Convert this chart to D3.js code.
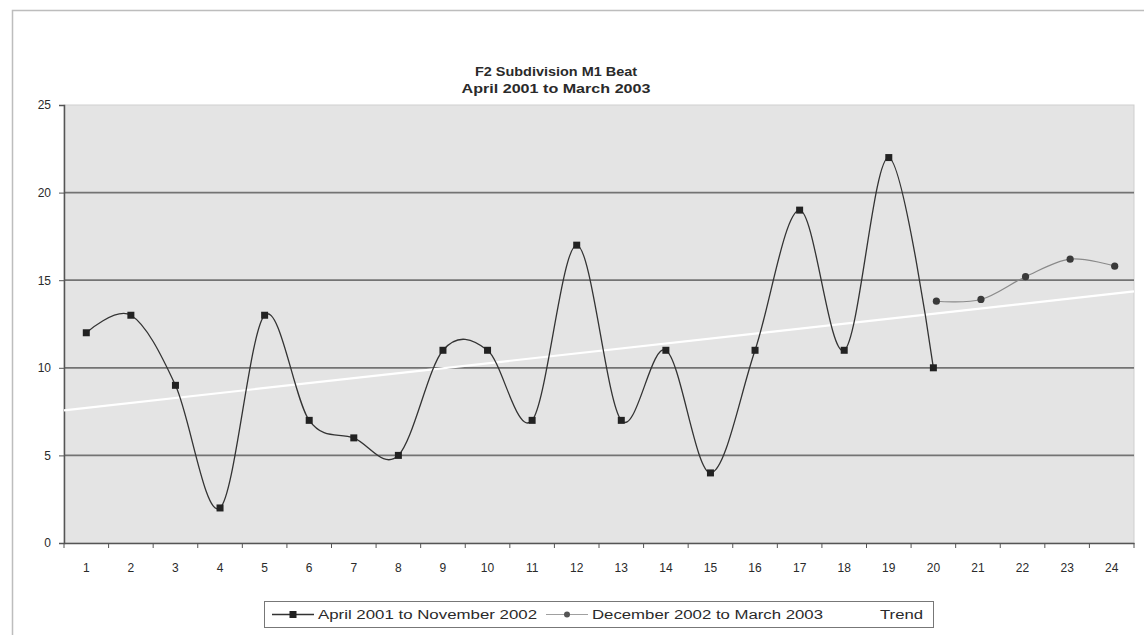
<!DOCTYPE html>
<html>
<head>
<meta charset="utf-8">
<script src="https://cdn.jsdelivr.net/npm/d3@7"></script>
<style>
  html, body { margin: 0; padding: 0; background: #fff; }
  svg { display: block; }
  text { font-family: "Liberation Sans", Arial, sans-serif; fill: #2a2a2a; }
</style>
</head>
<body>
<svg id="chart" width="1144" height="635"></svg>
<script>
// Monthly counts, F2 Subdivision M1 Beat
const months = d3.range(1, 25).map(String);
const firstPeriod = [12, 13, 9, 2, 13, 7, 6, 5, 11, 11, 7, 17, 7, 11, 4, 11, 19, 11, 22, 10]; // months 1-20
const secondPeriod = [13.8, 13.9, 15.2, 16.2, 15.8];                                          // months 20-24
const secondStart = 20;
const yTicks = [0, 5, 10, 15, 20, 25];
const titleLines = ["F2 Subdivision M1 Beat", "April 2001 to March 2003"];
const legendLabels = ["April 2001 to November 2002", "December 2002 to March 2003", "Trend"];

const svg = d3.select("#chart");
const plot = { left: 64, right: 1134, top: 105, bottom: 543 };

// chart frame
svg.append("rect").attr("x", 12.5).attr("y", 10.5).attr("width", 1140).attr("height", 640)
  .attr("fill", "#fff").attr("stroke", "#bdbdbd").attr("stroke-width", 1.5);

const x = d3.scaleBand().domain(months).range([plot.left, plot.right]);
const xc = d => x(String(d)) + x.bandwidth() / 2;
const xLin = d3.scaleLinear().domain([0.5, 24.5]).range([plot.left, plot.right]);
const y = d3.scaleLinear().domain([0, 25]).range([plot.bottom, plot.top]);

// plot area
svg.append("rect").attr("x", plot.left).attr("y", plot.top)
  .attr("width", plot.right - plot.left).attr("height", plot.bottom - plot.top)
  .attr("fill", "#e4e4e4").attr("stroke", "#cfcfcf").attr("stroke-width", 1);

// horizontal gridlines
svg.append("g").selectAll("line").data(yTicks.filter(v => v > 0 && v < 25)).join("line")
  .attr("x1", plot.left).attr("x2", plot.right)
  .attr("y1", d => y(d)).attr("y2", d => y(d))
  .attr("stroke", "#737373").attr("stroke-width", 1.7);

// y axis
const yAxis = svg.append("g").attr("transform", `translate(${plot.left},0)`)
  .call(d3.axisLeft(y).tickValues(yTicks).tickSize(5).tickPadding(8));
yAxis.select(".domain").attr("stroke", "#555").attr("stroke-width", 1.5);
yAxis.selectAll(".tick line").attr("stroke", "#555");
yAxis.selectAll("text").attr("font-size", 12).attr("fill", "#333");

// x axis: ticks fall between categories
const xAxis = svg.append("g").attr("transform", `translate(0,${plot.bottom})`)
  .call(d3.axisBottom(x).tickSize(0).tickPadding(20));
xAxis.select(".domain").attr("stroke", "#555").attr("stroke-width", 1.5);
xAxis.selectAll("text").attr("font-size", 12).attr("fill", "#333");
xAxis.append("g").selectAll("line").data(d3.range(0, 25)).join("line")
  .attr("x1", d => xLin(d + 0.5)).attr("x2", d => xLin(d + 0.5))
  .attr("y1", 0).attr("y2", 5).attr("stroke", "#555");

// least-squares trend over the first period
const xs = firstPeriod.map((_, i) => i + 1);
const mx = d3.mean(xs), my = d3.mean(firstPeriod);
const slope = d3.sum(xs, (v, i) => (v - mx) * (firstPeriod[i] - my)) / d3.sum(xs, v => (v - mx) ** 2);
const trendAt = t => my + slope * (t - mx);
svg.append("line")
  .attr("x1", xLin(0.5)).attr("y1", y(trendAt(0.5)))
  .attr("x2", xLin(24.5)).attr("y2", y(trendAt(24.5)))
  .attr("stroke", "#ffffff").attr("stroke-width", 2.2);

const smooth = d3.line().curve(d3.curveCardinal.tension(0));

// first period
const pts1 = firstPeriod.map((v, i) => [xc(i + 1), y(v)]);
svg.append("path").attr("d", smooth(pts1)).attr("fill", "none")
  .attr("stroke", "#333").attr("stroke-width", 1.3);
svg.append("g").selectAll("rect").data(pts1).join("rect")
  .attr("x", d => d[0] - 3.5).attr("y", d => d[1] - 3.5)
  .attr("width", 7).attr("height", 7).attr("fill", "#222");

// second period
const pts2 = secondPeriod.map((v, i) => [xc(secondStart + i) + 3, y(v)]);
svg.append("path").attr("d", smooth(pts2)).attr("fill", "none")
  .attr("stroke", "#8a8a8a").attr("stroke-width", 1.2);
svg.append("g").selectAll("circle").data(pts2).join("circle")
  .attr("cx", d => d[0]).attr("cy", d => d[1]).attr("r", 3.6).attr("fill", "#3a3a3a");

// title
svg.append("g").selectAll("text").data(titleLines).join("text")
  .attr("x", 556).attr("y", (d, i) => 76 + i * 17)
  .attr("text-anchor", "middle").attr("font-size", 13.5).attr("font-weight", "bold")
  .attr("fill", "#222")
  .attr("textLength", (d, i) => i === 0 ? 162 : 189).attr("lengthAdjust", "spacingAndGlyphs")
  .text(d => d);

// legend
const lg = svg.append("g");
lg.append("rect").attr("x", 264.5).attr("y", 601.5).attr("width", 669).attr("height", 26)
  .attr("fill", "#fff").attr("stroke", "#777").attr("stroke-width", 1);
const ly = 614.5;
lg.append("line").attr("x1", 272).attr("x2", 314).attr("y1", ly).attr("y2", ly)
  .attr("stroke", "#333").attr("stroke-width", 1.3);
lg.append("rect").attr("x", 289.5).attr("y", ly - 3.5).attr("width", 7).attr("height", 7).attr("fill", "#222");
lg.append("line").attr("x1", 546).attr("x2", 588).attr("y1", ly).attr("y2", ly)
  .attr("stroke", "#a0a0a0").attr("stroke-width", 1.2);
lg.append("circle").attr("cx", 567).attr("cy", ly).attr("r", 3).attr("fill", "#555");
lg.append("line").attr("x1", 838).attr("x2", 872).attr("y1", ly).attr("y2", ly)
  .attr("stroke", "#ffffff").attr("stroke-width", 2);
const legendPos = [[318, 219], [592, 231], [880, 43]];
lg.selectAll("text.lab").data(legendLabels).join("text").attr("class", "lab")
  .attr("x", (d, i) => legendPos[i][0]).attr("y", ly + 4.5)
  .attr("font-size", 12).attr("fill", "#333")
  .attr("textLength", (d, i) => legendPos[i][1]).attr("lengthAdjust", "spacingAndGlyphs")
  .text(d => d);
</script>
</body>
</html>
